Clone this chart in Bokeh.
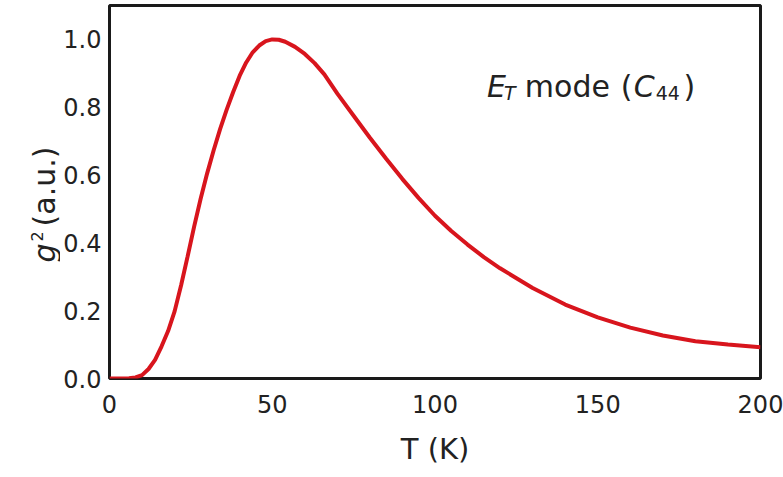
from bokeh.plotting import figure
from bokeh.layouts import row
from bokeh.models import Range1d, FixedTicker, PrintfTickFormatter, Label
from bokeh.embed import file_html
from bokeh.resources import INLINE
import math

# ---- data ----
T_K = [0, 4, 6, 8, 10, 12, 14, 16, 18, 20, 22, 24, 26, 28, 30, 32, 34, 36, 38, 40,
       42, 44, 46, 48, 50, 52, 54, 57, 60, 63, 66, 70, 75, 80, 85, 90, 95, 100, 105,
       110, 115, 120, 130, 140, 150, 160, 170, 180, 190, 200]
g2 = [0.0, 0.0, 0.0005, 0.003, 0.01, 0.028, 0.055, 0.095, 0.14, 0.198, 0.275, 0.36,
      0.448, 0.53, 0.605, 0.673, 0.736, 0.793, 0.845, 0.893, 0.932, 0.962, 0.982,
      0.995, 1.0, 0.999, 0.993, 0.978, 0.957, 0.93, 0.897, 0.84, 0.775, 0.71, 0.648,
      0.588, 0.532, 0.48, 0.435, 0.395, 0.358, 0.325, 0.267, 0.218, 0.18, 0.15, 0.127,
      0.11, 0.1, 0.092]
x_ticks = [0, 50, 100, 150, 200]
y_ticks = [0.0, 0.2, 0.4, 0.6, 0.8, 1.0]

FONT = "DejaVu Sans"
INK = "#222222"
X0, X1 = 0, 200
Y0, Y1 = 0, 1.1
TOP, BOTTOM = 5, 99
LEFT_W = 60

yr = Range1d(Y0, Y1)

# main plot
p = figure(width=783 - LEFT_W, height=477, output_backend="svg", toolbar_location=None,
           x_range=Range1d(X0, X1), y_range=yr,
           min_border_left=108 - LEFT_W, min_border_right=23,
           min_border_top=TOP, min_border_bottom=BOTTOM)
p.background_fill_color = "white"
p.border_fill_color = "white"
p.outline_line_color = "#1a1a1a"
p.outline_line_width = 3
p.xgrid.visible = False
p.ygrid.visible = False

p.line(T_K, g2, line_color="#d8151d", line_width=4)

for ax in (p.xaxis[0], p.yaxis[0]):
    ax.major_tick_line_color = None
    ax.minor_tick_line_color = None
    ax.major_tick_out = 0
    ax.major_tick_in = 0
    ax.axis_line_color = None
    ax.major_label_text_font = FONT
    ax.major_label_text_font_size = "24px"
    ax.major_label_text_color = INK

p.xaxis.ticker = FixedTicker(ticks=x_ticks)
p.yaxis.ticker = FixedTicker(ticks=y_ticks)
p.yaxis.formatter = PrintfTickFormatter(format="%.1f")
p.xaxis.major_label_standoff = 16
p.yaxis.major_label_standoff = 8

p.xaxis.axis_label = "T (K)"
p.xaxis.axis_label_text_font = FONT
p.xaxis.axis_label_text_font_style = "normal"
p.xaxis.axis_label_text_font_size = "29px"
p.xaxis.axis_label_text_color = INK
p.xaxis.axis_label_standoff = 16

# page-pixel -> data helpers for text placement (frame: x 108..760, y0 at 378, 339 px/unit)
def dx(px):
    return (px - 108) / 3.26
def dy(py):
    return (378 - py) / 339.0

def lab(fig, text, x, py, size, style="normal", angle=0.0):
    fig.add_layout(Label(x=x, y=dy(py), text=text, text_font=FONT,
                         text_font_size=size, text_font_style=style, angle=angle,
                         text_color=INK, text_align="left", text_baseline="alphabetic"))

# annotation: E_T mode (C_44)
lab(p, "E", dx(486), 86, "30px", "italic")
lab(p, "T", dx(503), 93, "19px", "italic")
lab(p, "mode", dx(524), 86, "30px")
lab(p, "(", dx(620), 86, "30px")
lab(p, "C", dx(633), 86, "30px", "italic")
lab(p, "44", dx(655), 93, "19px")
lab(p, ")", dx(683), 86, "30px")

# y-axis title strip: g^2 (a.u.), rotated
q = figure(width=LEFT_W, height=477, output_backend="svg", toolbar_location=None,
           x_range=Range1d(0, LEFT_W), y_range=yr, x_axis_type=None, y_axis_type=None,
           min_border_left=0, min_border_right=0,
           min_border_top=TOP, min_border_bottom=BOTTOM)
q.outline_line_color = None
q.background_fill_color = "white"
q.border_fill_color = "white"
q.xgrid.visible = False
q.ygrid.visible = False

A = math.pi / 2
lab(q, "g", 44, 262, "30px", "italic", A)
lab(q, "2", 36, 241, "16px", "normal", A)
lab(q, "(a.u.)", 44, 226, "30px", "normal", A)

layout = row(q, p)
open("out.html", "w").write(file_html(layout, INLINE))
